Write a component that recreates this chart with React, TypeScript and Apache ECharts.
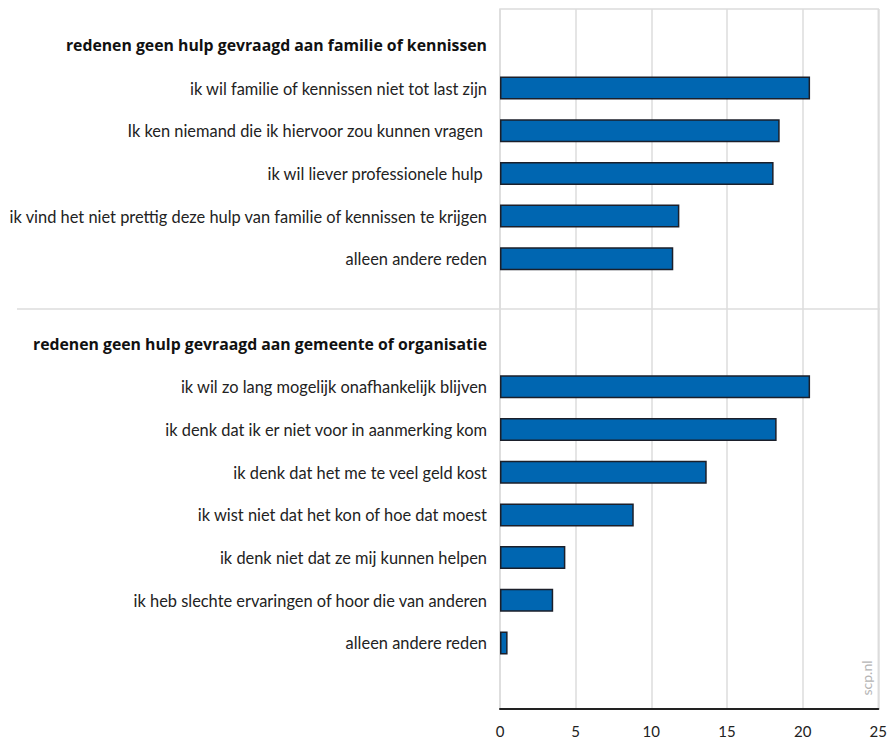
import React, { useEffect, useRef } from "react";
import * as echarts from "echarts";

const groupTitles = [
  "redenen geen hulp gevraagd aan familie of kennissen",
  "redenen geen hulp gevraagd aan gemeente of organisatie",
];

const familyReasons = [
  "ik wil familie of kennissen niet tot last zijn",
  "Ik ken niemand die ik hiervoor zou kunnen vragen ",
  "ik wil liever professionele hulp ",
  "ik vind het niet prettig deze hulp van familie of kennissen te krijgen",
  "alleen andere reden",
];
const familyValues = [20.4, 18.4, 18.0, 11.8, 11.4];

const orgReasons = [
  "ik wil zo lang mogelijk onafhankelijk blijven",
  "ik denk dat ik er niet voor in aanmerking kom",
  "ik denk dat het me te veel geld kost",
  "ik wist niet dat het kon of hoe dat moest",
  "ik denk niet dat ze mij kunnen helpen",
  "ik heb slechte ervaringen of hoor die van anderen",
  "alleen andere reden",
];
const orgValues = [20.4, 18.2, 13.6, 8.8, 4.3, 3.5, 0.5];

const xTicks = [0, 5, 10, 15, 20, 25];

export default function App() {
  const ref = useRef<HTMLDivElement>(null);

  useEffect(() => {
    if (!ref.current) return;
    const chart = echarts.init(ref.current, null, { renderer: "svg" });

    const categories: string[] = [];
    const values: (number | null)[] = [];
    const headerIdx = new Set<number>();

    headerIdx.add(categories.length);
    categories.push(groupTitles[0]);
    values.push(null);
    familyReasons.forEach((r, i) => {
      categories.push(r);
      values.push(familyValues[i]);
    });
    categories.push("");
    values.push(null);
    headerIdx.add(categories.length);
    categories.push(groupTitles[1]);
    values.push(null);
    orgReasons.forEach((r, i) => {
      categories.push(r);
      values.push(orgValues[i]);
    });
    categories.push("");
    values.push(null);

    const font = "Lato, 'Open Sans', sans-serif";
    const xMax = xTicks[xTicks.length - 1];

    chart.setOption({
      animation: false,
      backgroundColor: "#ffffff",
      grid: [
        {
          left: 500,
          right: 10,
          top: 9,
          bottom: 31,
          show: true,
          borderColor: "#dcdcdc",
          borderWidth: 1.5,
        },
        { left: 500, right: 10, top: 24, bottom: 33 },
      ],
      xAxis: [
        {
          gridIndex: 0,
          type: "value",
          min: 0,
          max: xMax,
          interval: 5,
          axisLine: { show: true, lineStyle: { color: "#222", width: 2 } },
          axisTick: { show: false },
          splitLine: { show: true, lineStyle: { color: "#dcdcdc", width: 1.5 } },
          axisLabel: {
            color: "#222",
            fontSize: 15,
            fontFamily: font,
            margin: 14,
          },
        },
        {
          gridIndex: 1,
          type: "value",
          min: 0,
          max: xMax,
          show: false,
        },
      ],
      yAxis: [
        { gridIndex: 0, type: "value", show: false, min: 0, max: 1 },
        {
          gridIndex: 1,
          type: "category",
          inverse: true,
          data: categories,
          axisLine: { show: false },
          axisTick: { show: false },
          splitLine: { show: false },
          axisLabel: {
            margin: 13,
            interval: 0,
            formatter: (v: string, i: number) =>
              headerIdx.has(i) ? `{h|${v}}` : `{n|${v}}`,
            rich: {
              h: {
                fontFamily: "'Open Sans', Lato, sans-serif",
                fontSize: 15.8,
                fontWeight: "bold",
                color: "#111",
              },
              n: {
                fontFamily: font,
                fontSize: 16.4,
                color: "#222",
              },
            },
          },
        },
      ],
      series: [
        {
          type: "bar",
          xAxisIndex: 1,
          yAxisIndex: 1,
          data: values,
          barWidth: 23,
          itemStyle: {
            color: "#0066b1",
            borderColor: "#1b1f2a",
            borderWidth: 1.5,
          },
        },
      ],
      graphic: [
        {
          type: "line",
          shape: { x1: 17, y1: 309, x2: 880, y2: 309 },
          style: { stroke: "#dcdcdc", lineWidth: 1.5 },
          z: 0,
        },
        {
          type: "text",
          x: 866,
          y: 678,
          rotation: Math.PI / 2,
          style: {
            text: "scp.nl",
            fill: "#b5b5b5",
            fontSize: 14,
            fontFamily: font,
            align: "center",
            verticalAlign: "middle",
          },
        },
      ],
    });

    return () => chart.dispose();
  }, []);

  return (
    <div
      ref={ref}
      style={{ position: "fixed", left: 0, top: 0, width: 890, height: 740 }}
    />
  );
}
